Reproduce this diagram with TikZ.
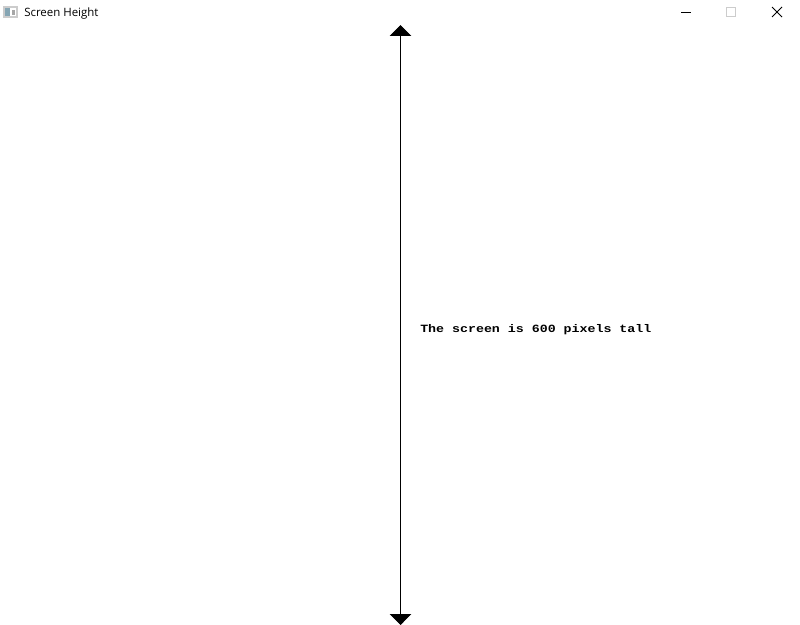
\documentclass[tikz,border=0pt]{standalone}
\usepackage{fontspec}
\setmainfont{Open Sans}
\newfontfamily\pixelfont[FakeStretch=1.2]{Liberation Mono}
\usetikzlibrary{arrows.meta}
\tikzset{
  titletext/.style={anchor=west, inner sep=0pt, font=\fontsize{8.6pt}{10pt}\selectfont},
  screentext/.style={anchor=west, inner sep=0pt, font=\pixelfont\bfseries\fontsize{8.3pt}{10pt}\selectfont},
  heightarrow/.style={line width=0.75pt, {Triangle[length=8.2pt,width=16.2pt]}-{Triangle[length=8.2pt,width=16.2pt]}}
}
\begin{document}
\begin{tikzpicture}[x=0.75pt, y=-0.75pt]
            \useasboundingbox (0,0) rectangle (800,625);
            \fill[white] (0,0) rectangle (800,625);
            % title bar
            \fill[black!20] (3,6) rectangle (18,18);
            \fill[black!55!cyan!60!white] (5,8) rectangle (10,16);
            \fill[white] (10,8) rectangle (16,16);
            \fill[black!35] (12,10) rectangle (15,15);
            \node[titletext] (title) at (24,14) {Screen Height};
            \draw[line width=0.75pt] (681,12.5) -- (691,12.5);
            \draw[black!20, line width=0.75pt] (726.5,7.5) rectangle (735.5,16.5);
            \draw[line width=0.75pt] (772,7) -- (782,17);
            \draw[line width=0.75pt] (782,7) -- (772,17);
            % arrow
            \coordinate (top) at (400.5,25);
            \coordinate (bottom) at (400.5,625);
            \draw[heightarrow] (top) -- (bottom);
            \node[screentext] (label) at (420,329.5) {The screen is 600 pixels tall};
\end{tikzpicture}
\end{document}
